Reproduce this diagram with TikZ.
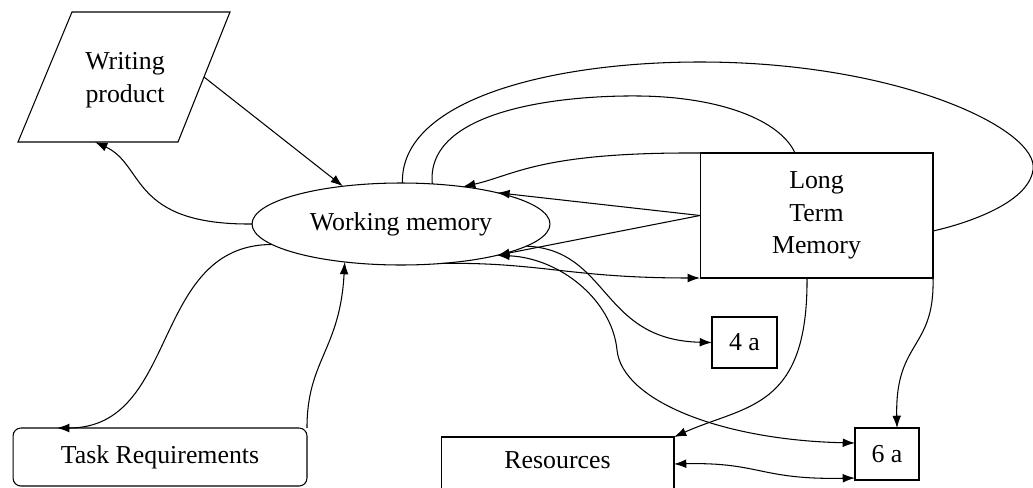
\documentclass[tikz,border=0pt]{standalone}
\usepackage{fontspec}
\setmainfont{Liberation Serif}
\usetikzlibrary{shapes.geometric,arrows.meta}

\begin{document}
\begin{tikzpicture}[x=0.02cm,y=-0.02cm,line width=0.6pt,
  >={Latex[length=7pt,width=5pt]},
  font=\fontsize{14.7}{18.5}\selectfont,
  memrect/.style={draw,rectangle,inner sep=0pt,outer sep=0pt,align=center}]
  \useasboundingbox (0,0) rectangle (1033,487);
  % Memory and boxes
  \node[draw,ellipse,inner sep=0pt,outer sep=0pt,minimum width=5.96cm,minimum height=1.64cm] (wm) at (401,224) {Working memory};
  \node[memrect,minimum width=4.66cm,minimum height=2.5cm] (ltm) at (816.5,215.5) {Long\\Term\\Memory};
  \node[memrect,minimum width=1.3cm,minimum height=1.02cm] (fa) at (744.5,342.5) {4 a};
  \node[memrect,minimum width=1.28cm,minimum height=1.04cm] (sa) at (887,454) {6 a};
  \node[memrect,rounded corners=4.5pt,minimum width=5.88cm,minimum height=1.16cm] (tr) at (160,457) {Task Requirements};
  \node[memrect,anchor=north,minimum width=4.66cm,text height=0.62cm,text depth=0.6cm] (res) at (557.5,437) {Resources};
  % Writing product
  \draw (72,12) -- (230,12) -- (178,142) -- (18,142) -- cycle;
  \node[align=center] (wp) at (125,80) {Writing\\product};
  \coordinate (wpr) at (204,77);
  \coordinate (wpb) at (95,142);
  % Arrows round working memory
  \draw[->] (wpr) -- (wm.147);
  \draw[->] (wm.west) .. controls (130,225) and (145,165) .. (wpb);
  \draw[->] (wm.189) .. controls (150,245) and (180,428) .. ([xshift=0.88cm]tr.north west);
  \draw[->] (tr.north east) .. controls (307,360) and (340,350) .. (wm.214);
  % Long term memory
  \draw[->] (ltm.north west) .. controls (540,152) and (515,175) .. (wm.31);
  \draw[->] (ltm.west) -- (wm.18);
  \draw[->] (ltm.west) -- (wm.-18);
  \draw (wm.88) .. controls (400,100) and (550,62) .. (700,62)
    .. controls (900,62) and (1040,130) .. (1033,170)
    .. controls (1028,205) and (960,225) .. ([yshift=-0.31cm]ltm.east);
  \draw (wm.52) .. controls (425,110) and (560,95) .. (640,96)
    .. controls (720,97) and (780,120) .. ([xshift=-0.43cm]ltm.north);
  \draw[->] (wm.-44) .. controls (540,262) and (570,278) .. (ltm.south west);
  % Lower boxes
  \draw[->] (wm.-10) .. controls (610,250) and (600,340) .. (fa.west);
  \draw[<->] (wm.-18) .. controls (560,258) and (612,300) .. (617,350)
    .. controls (622,400) and (720,440) .. ([yshift=0.22cm]sa.west);
  \draw[->] ([xshift=-0.19cm]ltm.south) .. controls (808,410) and (745,405) .. (res.north east);
  \draw[->] (ltm.south east) .. controls (935,350) and (895,340) .. ([xshift=0.2cm]sa.north);
  \draw[<->] ([yshift=0.07cm]res.east) .. controls (760,462) and (760,480) .. ([yshift=0.04cm]sa.south west);
\end{tikzpicture}
\end{document}
